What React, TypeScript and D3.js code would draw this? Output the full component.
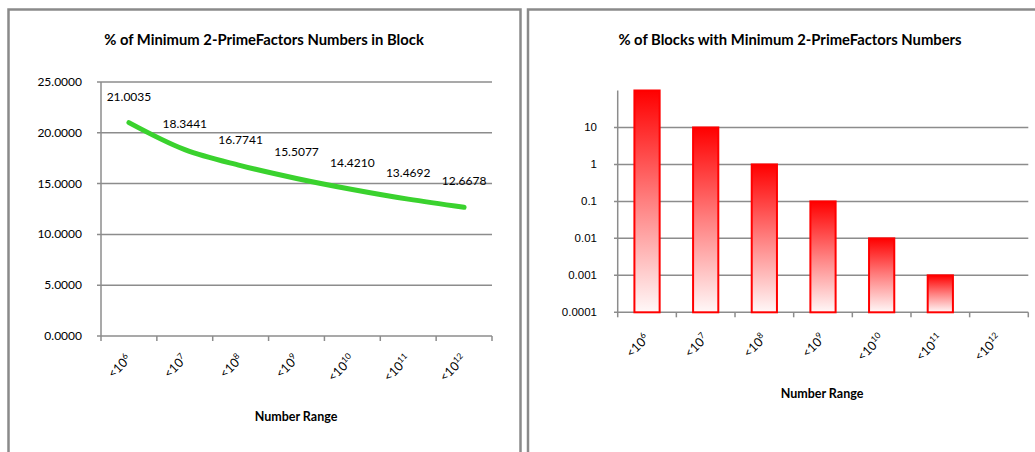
import React from "react";
import * as d3 from "d3";

const categories = ["6", "7", "8", "9", "10", "11", "12"]; // exponents of 10 in "<10^n"
const pctInBlock = [21.0035, 18.3441, 16.7741, 15.5077, 14.421, 13.4692, 12.6678];
const pctBlocks: (number | null)[] = [100, 10, 1, 0.1, 0.01, 0.001, null];
const leftTicks = [0, 5, 10, 15, 20, 25];
const rightTicks = [0.0001, 0.001, 0.01, 0.1, 1, 10];

const W = 1035;
const H = 452;
const CAL = "Lato, 'Open Sans', sans-serif";
const ARIAL = "'Liberation Sans', Arial, sans-serif";
const GRID = "#8c8c8c";

function XLabel({ x, y, exp }: { x: number; y: number; exp: string }) {
  return (
    <text
      transform={`translate(${x},${y}) rotate(-45)`}
      textAnchor="end"
      fontFamily={CAL}
      fontSize={12.5}
      fill="#000"
    >
      {"<10"}
      <tspan fontSize={8.5} dy={-5}>
        {exp}
      </tspan>
    </text>
  );
}

function LeftChart() {
  const x = d3.scaleBand<string>().domain(categories).range([101, 492]).padding(0);
  const y = d3.scaleLinear().domain([0, 25]).range([336, 82]);
  const cx = (c: string) => (x(c) as number) + x.bandwidth() / 2;
  const line = d3
    .line<number>()
    .x((_, i) => cx(categories[i]))
    .y((d) => y(d))
    .curve(d3.curveCatmullRom.alpha(0.5));
  const xTickPos = categories.map((c) => x(c) as number).concat([x.range()[1]]);
  return (
    <g>
      <text x={264} y={45} textAnchor="middle" fontFamily={CAL} fontWeight="bold" fontSize={14.8}>
        % of Minimum 2-PrimeFactors Numbers in Block
      </text>
      {leftTicks.map((t) => (
        <g key={t}>
          <line x1={97} x2={492} y1={y(t)} y2={y(t)} stroke={GRID} strokeWidth={1.5} />
          <text x={82} y={y(t) + 4} textAnchor="end" fontFamily={CAL} fontSize={12}>
            {t.toFixed(4)}
          </text>
        </g>
      ))}
      <line x1={101} x2={101} y1={y(25)} y2={y(0)} stroke={GRID} strokeWidth={1.5} />
      {xTickPos.map((p, i) => (
        <line key={i} x1={p} x2={p} y1={y(0)} y2={y(0) + 5} stroke={GRID} strokeWidth={1.5} />
      ))}
      <path
        d={line(pctInBlock) || ""}
        fill="none"
        stroke="#3ad22e"
        strokeWidth={5}
        strokeLinecap="round"
        strokeLinejoin="round"
      />
      {pctInBlock.map((v, i) => (
        <text
          key={i}
          x={cx(categories[i])}
          y={y(v) - 22}
          textAnchor="middle"
          fontFamily={CAL}
          fontSize={12}
        >
          {v.toFixed(4)}
        </text>
      ))}
      {categories.map((c) => (
        <XLabel key={c} x={cx(c) + 3} y={y(0) + 24} exp={c} />
      ))}
      <text x={296} y={421} textAnchor="middle" fontFamily={CAL} fontWeight="bold" fontSize={12.5}>
        Number Range
      </text>
    </g>
  );
}

function RightChart() {
  const x = d3.scaleBand<string>().domain(categories).range([617.7, 1028.3]).padding(0);
  const y = d3.scaleLog().domain([0.0001, 100]).range([312.3, 90.5]);
  const cx = (c: string) => (x(c) as number) + x.bandwidth() / 2;
  const bw = x.bandwidth() * 0.43;
  const xTickPos = categories.map((c) => x(c) as number).concat([x.range()[1]]);
  return (
    <g>
      <defs>
        <linearGradient id="barGrad" x1="0" y1="0" x2="0" y2="1">
          <stop offset="0" stopColor="#ff0000" />
          <stop offset="0.5" stopColor="#ff8080" />
          <stop offset="1" stopColor="#fff8f8" />
        </linearGradient>
      </defs>
      <text x={790} y={45} textAnchor="middle" fontFamily={CAL} fontWeight="bold" fontSize={14.8}>
        % of Blocks with Minimum 2-PrimeFactors Numbers
      </text>
      {rightTicks.map((t) => (
        <g key={t}>
          <line x1={614} x2={1028.3} y1={y(t)} y2={y(t)} stroke={GRID} strokeWidth={1.5} />
          <text x={597} y={y(t) + 4} textAnchor="end" fontFamily={ARIAL} fontSize={11.5}>
            {String(t)}
          </text>
        </g>
      ))}
      <line x1={617.7} x2={617.7} y1={y(100)} y2={y(0.0001)} stroke={GRID} strokeWidth={1.5} />
      {xTickPos.map((p, i) => (
        <line key={i} x1={p} x2={p} y1={y(0.0001)} y2={y(0.0001) + 5} stroke={GRID} strokeWidth={1.5} />
      ))}
      {pctBlocks.map((v, i) =>
        v == null ? null : (
          <rect
            key={i}
            x={cx(categories[i]) - bw / 2}
            y={y(v)}
            width={bw}
            height={y(0.0001) - y(v)}
            fill="url(#barGrad)"
            stroke="#ff0000"
            strokeWidth={2}
          />
        )
      )}
      {categories.map((c) => (
        <XLabel key={c} x={cx(c) + 3} y={y(0.0001) + 27} exp={c} />
      ))}
      <text x={822} y={398} textAnchor="middle" fontFamily={CAL} fontWeight="bold" fontSize={12.5}>
        Number Range
      </text>
    </g>
  );
}

export default function App() {
  return (
    <svg
      width={W}
      height={H}
      style={{ position: "absolute", left: 0, top: 0, background: "#fff" }}
    >
      <rect x={0} y={0} width={W} height={H} fill="#fff" />
      <path d={`M8.5,${H + 2} V9.5 H520.5 V${H + 2}`} fill="none" stroke="#8a8a8a" strokeWidth={2.5} />
      <path d={`M528,${H + 2} V9.5 H${W + 5}`} fill="none" stroke="#8a8a8a" strokeWidth={2.5} />
      <LeftChart />
      <RightChart />
    </svg>
  );
}
